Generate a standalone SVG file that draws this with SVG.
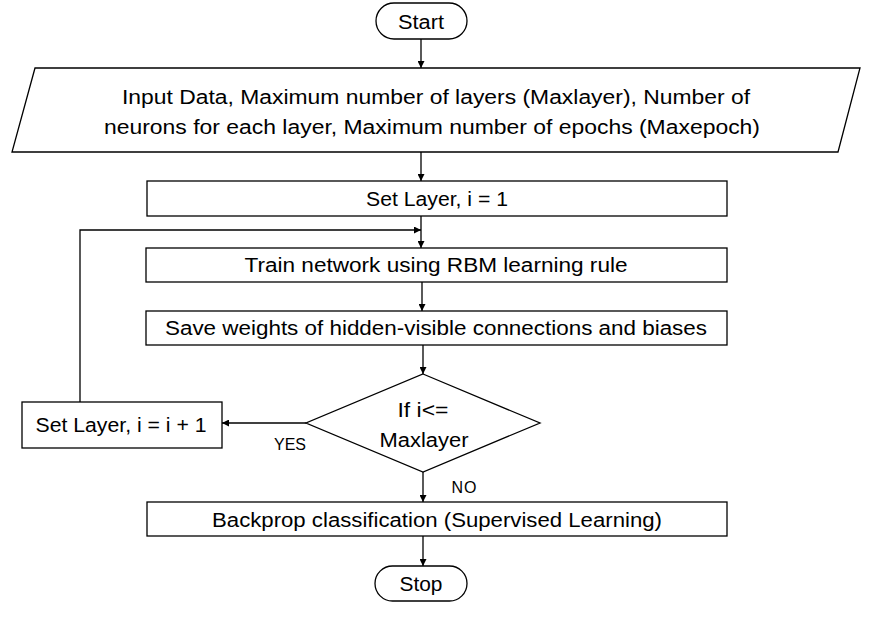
<svg xmlns="http://www.w3.org/2000/svg" width="872" height="618" viewBox="0 0 872 618">
<style>
.n{fill:#fff;stroke:#000;stroke-width:1.3}
.t{font-family:"Liberation Sans",Arial,sans-serif;font-size:20px;fill:#000;text-anchor:middle}
.s{font-size:16px}
.c{fill:none;stroke:#000;stroke-width:1.3;marker-end:url(#a)}
</style>
<defs>
<marker id="a" viewBox="0 0 10 10" refX="10" refY="5" markerWidth="7" markerHeight="7" markerUnits="userSpaceOnUse" orient="auto">
<path d="M0,0 L10,5 L0,10 z" fill="#000"/>
</marker>
</defs>
<rect width="872" height="618" fill="#fff"/>
<g id="connectors">
<path class="c" d="M421,39 V68"/>
<path class="c" d="M421,152 V181"/>
<path class="c" d="M421,216 V248"/>
<path class="c" d="M80,402 V230 H421"/>
<path class="c" d="M422,282 V311"/>
<path class="c" d="M423,345 V374"/>
<path class="c" d="M306,423 H222"/>
<path class="c" d="M423,472 V502"/>
<path class="c" d="M423,536 V566"/>
<text class="t s" x="290" y="450" textLength="32">YES</text>
<text class="t s" x="464" y="493" textLength="25">NO</text>
</g>
<g id="start">
<rect class="n" x="376" y="3" width="91" height="36" rx="18"/>
<text class="t" x="421" y="29" textLength="46" lengthAdjust="spacingAndGlyphs">Start</text>
</g>
<g id="input">
<polygon class="n" points="35,68 860,68 838,152 12,152"/>
<text class="t" x="436" y="104" textLength="628" lengthAdjust="spacingAndGlyphs">Input Data, Maximum number of layers (Maxlayer), Number of</text>
<text class="t" x="432" y="134" textLength="656" lengthAdjust="spacingAndGlyphs">neurons for each layer, Maximum number of epochs (Maxepoch)</text>
</g>
<g id="setlayer">
<rect class="n" x="147" y="181" width="580" height="35"/>
<text class="t" x="437" y="206" textLength="142" lengthAdjust="spacingAndGlyphs">Set Layer, i = 1</text>
</g>
<g id="train">
<rect class="n" x="146" y="248" width="581" height="34"/>
<text class="t" x="436" y="272" textLength="383" lengthAdjust="spacingAndGlyphs">Train network using RBM learning rule</text>
</g>
<g id="save">
<rect class="n" x="146" y="311" width="581" height="34"/>
<text class="t" x="436" y="335" textLength="542" lengthAdjust="spacingAndGlyphs">Save weights of hidden-visible connections and biases</text>
</g>
<g id="decision">
<polygon class="n" points="423,374 540,423 423,472 306,423"/>
<text class="t" x="423" y="417" textLength="51" lengthAdjust="spacingAndGlyphs">If i&lt;=</text>
<text class="t" x="424" y="447" textLength="89" lengthAdjust="spacingAndGlyphs">Maxlayer</text>
</g>
<g id="increment">
<rect class="n" x="22" y="402" width="200" height="46"/>
<text class="t" x="121" y="432" textLength="171" lengthAdjust="spacingAndGlyphs">Set Layer, i = i + 1</text>
</g>
<g id="backprop">
<rect class="n" x="147" y="502" width="580" height="34"/>
<text class="t" x="437" y="527" textLength="450" lengthAdjust="spacingAndGlyphs">Backprop classification (Supervised Learning)</text>
</g>
<g id="stop">
<rect class="n" x="375" y="566" width="92" height="35" rx="17.5"/>
<text class="t" x="421" y="591" textLength="43" lengthAdjust="spacingAndGlyphs">Stop</text>
</g>
</svg>
